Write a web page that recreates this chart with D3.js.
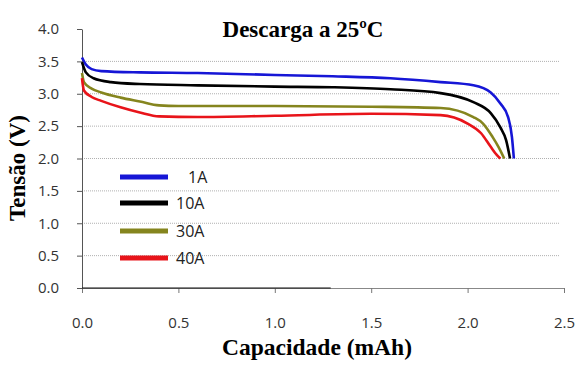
<!DOCTYPE html>
<html><head><meta charset="utf-8">
<script src="https://cdn.jsdelivr.net/npm/d3@7"></script>
<style>body{margin:0;background:#fff}</style>
</head><body>
<svg id="c" width="580" height="369"></svg>
<script>
const seriesNames = ["1A", "10A", "30A", "40A"];
const seriesColors = ["#1616d6", "#000000", "#85851e", "#e8141a"];
const cap1A  = [0,0.02,0.05,0.1,0.3,0.6,1.0,1.3,1.6,1.86,2.03,2.12,2.17,2.21,2.23,2.24];
const volt1A = [3.56,3.45,3.38,3.35,3.33,3.32,3.29,3.27,3.24,3.18,3.13,3.02,2.85,2.64,2.33,2.0];
const cap10A  = [0,0.02,0.06,0.15,0.3,0.6,1.0,1.3,1.6,1.86,2.03,2.12,2.17,2.2,2.22];
const volt10A = [3.49,3.33,3.24,3.18,3.15,3.13,3.11,3.10,3.07,3.01,2.87,2.70,2.48,2.28,2.0];
const cap30A  = [0,0.01,0.05,0.1,0.2,0.3,0.4,0.5,1.0,1.5,1.86,2.03,2.08,2.13,2.16,2.19];
const volt30A = [3.32,3.18,3.08,3.02,2.94,2.88,2.82,2.81,2.81,2.80,2.78,2.64,2.54,2.33,2.18,2.0];
const cap40A  = [0,0.01,0.05,0.1,0.2,0.3,0.4,0.6,1.0,1.5,1.86,2.0,2.07,2.12,2.15,2.17];
const volt40A = [3.24,3.05,2.95,2.89,2.79,2.71,2.65,2.64,2.66,2.69,2.67,2.54,2.39,2.18,2.06,2.0];
const xTicks = [0,0.5,1.0,1.5,2.0,2.5];
const yTicks = [0,0.5,1.0,1.5,2.0,2.5,3.0,3.5,4.0];
const gridLevels = [0.5,1.0,1.5,2.0,2.5,3.0,3.5];
const titleText = "Descarga a 25ºC";
const xLabel = "Capacidade (mAh)";
const yLabel = "Tensão (V)";

const caps = [cap1A, cap10A, cap30A, cap40A];
const volts = [volt1A, volt10A, volt30A, volt40A];

const svg = d3.select("#c");
const x = d3.scaleLinear().domain([0,2.5]).range([82,564]);
const y = d3.scaleLinear().domain([0,4]).range([288,29]);

// grid
svg.append("g").selectAll("line").data(gridLevels).join("line")
  .attr("x1", x(0)).attr("x2", 560).attr("y1", d=>y(d)).attr("y2", d=>y(d))
  .attr("stroke", "#b0b0b0").attr("stroke-width", 1).attr("stroke-dasharray", "1,1");

// y axis
const ya = svg.append("g").attr("transform", `translate(${x(0)},0)`)
  .call(d3.axisLeft(y).tickValues(yTicks).tickFormat(d3.format(".1f")).tickSize(5).tickSizeOuter(0));
ya.select(".domain").attr("stroke", "#555");
ya.selectAll(".tick line").attr("stroke", "#555");
ya.selectAll("text").attr("font-family", "'Open Sans', sans-serif").attr("font-size", 15).attr("fill", "#333").attr("x", -23);

// x axis
const xa = svg.append("g").attr("transform", `translate(0,${y(0)})`)
  .call(d3.axisBottom(x).tickValues(xTicks).tickFormat(d3.format(".1f")).tickSize(5).tickSizeOuter(0));
xa.select(".domain").attr("stroke", "#888");
xa.selectAll(".tick line").attr("stroke", "#777");
xa.selectAll("text").attr("font-family", "'Open Sans', sans-serif").attr("font-size", 15).attr("fill", "#333").attr("y", 29);
svg.append("line").attr("x1", x(0)).attr("x2", x(1.29)).attr("y1", y(0)).attr("y2", y(0))
  .attr("stroke", "#111").attr("stroke-width", 1.2);

// lines
const line = d3.line().x(d=>x(d[0])).y(d=>y(d[1])).curve(d3.curveMonotoneX);
seriesNames.forEach((n,i)=>{
  const pts = caps[i].map((c,j)=>[c, volts[i][j]]);
  svg.append("path").datum(pts).attr("d", line).attr("fill","none")
    .attr("stroke", seriesColors[i]).attr("stroke-width", 2.6);
});

// legend
const legY = [177, 203, 231, 258];
seriesNames.forEach((n,i)=>{
  svg.append("line").attr("x1",120).attr("x2",168).attr("y1",legY[i]).attr("y2",legY[i])
    .attr("stroke", seriesColors[i]).attr("stroke-width", 5);
  svg.append("text").attr("x", i===0?188:176).attr("y", legY[i]+6)
    .attr("font-family","'Open Sans', sans-serif").attr("font-size",16).attr("fill","#222").text(n);
});

// titles
svg.append("text").attr("x", 303).attr("y", 37).attr("text-anchor","middle")
  .attr("font-family","'Liberation Serif', serif").attr("font-weight","bold").attr("font-size",23).text(titleText);
svg.append("text").attr("x", 317).attr("y", 355).attr("text-anchor","middle")
  .attr("font-family","'Liberation Serif', serif").attr("font-weight","bold").attr("font-size",23.5).text(xLabel);
svg.append("text").attr("transform","translate(25,168) rotate(-90)").attr("text-anchor","middle")
  .attr("font-family","'Liberation Serif', serif").attr("font-weight","bold").attr("font-size",23).text(yLabel);
</script>
</body></html>
